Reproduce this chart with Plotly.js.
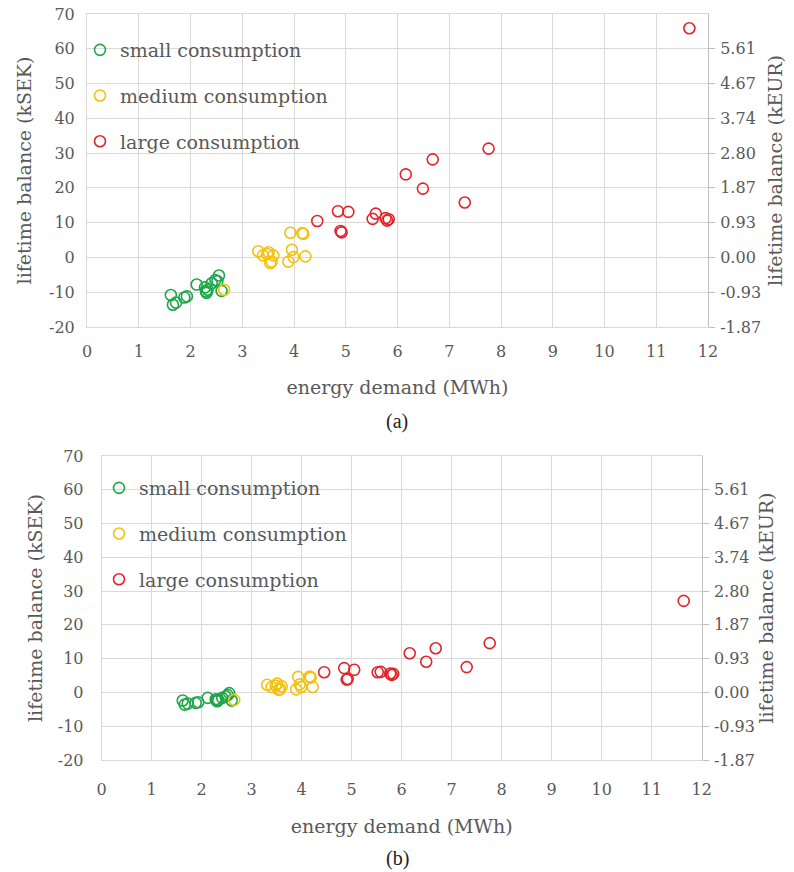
<!DOCTYPE html>
<html>
<head>
<meta charset="utf-8">
<script src="https://cdn.plot.ly/plotly-3.0.1.min.js"></script>
<style>html,body{margin:0;padding:0;background:#fff;}#chart{width:794px;height:872px;}</style>
</head>
<body>
<div id="chart"></div>
<script>
// energy demand (MWh)
const smallX  = [1.62, 1.66, 1.72, 1.88, 1.93, 2.12, 2.28, 2.30, 2.31, 2.33, 2.41, 2.48, 2.52, 2.55, 2.60];
// lifetime balance (kSEK), panel (a) and (b)
const smallYa = [-10.8, -13.6, -13.0, -11.5, -11.2, -7.8, -8.6, -9.8, -10.2, -9.3, -7.4, -6.5, -6.8, -5.2, -9.6];
const smallYb = [-2.4, -3.6, -3.3, -3.1, -2.9, -1.6, -2.0, -2.4, -2.6, -2.2, -1.6, -1.2, -0.8, -0.2, -2.4];

const mediumX  = [2.65, 3.31, 3.40, 3.48, 3.51, 3.54, 3.57, 3.60, 3.89, 3.93, 3.96, 3.99, 4.16, 4.18, 4.22];
const mediumYa = [-9.3, 1.8, 0.6, 1.0, 1.5, -1.6, -1.2, 0.6, -1.2, 7.1, 2.2, 0.1, 7.0, 6.8, 0.3];
const mediumYb = [-2.2, 2.3, 1.6, 2.0, 2.6, 0.8, 1.0, 1.8, 0.9, 4.6, 2.4, 1.6, 4.7, 4.4, 1.6];

const largeX  = [4.45, 4.85, 4.90, 4.92, 5.05, 5.52, 5.58, 5.77, 5.80, 5.83, 6.16, 6.49, 6.68, 7.30, 7.76, 11.64];
const largeYa = [10.5, 13.3, 7.6, 7.2, 13.1, 11.1, 12.6, 11.3, 10.6, 11.0, 23.9, 19.8, 28.2, 15.8, 31.3, 65.9];
const largeYb = [6.0, 7.2, 3.8, 4.0, 6.7, 6.0, 6.1, 5.6, 5.2, 5.5, 11.6, 9.1, 13.1, 7.5, 14.6, 27.1];

const seriesNames = ["small consumption", "medium consumption", "large consumption"];
const seriesColors = ["#1ea64b", "#f4c10f", "#e2252b"];

// left axis: kSEK tick labels
const kSekTickVals = [-20, -10, 0, 10, 20, 30, 40, 50, 60, 70];
const kSekTickText = ["-20", "-10", "0", "10", "20", "30", "40", "50", "60", "70"];
// right axis: kEUR labels placed at kSEK grid values
const kEurTickVals = [-20, -10, 0, 10, 20, 30, 40, 50, 60];
const kEurTickText = ["-1.87", "-0.93", "0.00", "0.93", "1.87", "2.80", "3.74", "4.67", "5.61"];

const FONT = "DejaVu Serif";
const TXT = "#595959";
const GRID = "#d9d9d9";
const W = 794, H = 872;

function mk(x, y, i, xa, ya, leg) {
  return {
    type: "scatter", mode: "markers", x: x, y: y, name: seriesNames[i],
    xaxis: xa, yaxis: ya, legend: leg, legendgroup: leg + i,
    marker: {symbol: "circle-open", size: 11, color: seriesColors[i], line: {width: 1.6, color: seriesColors[i]}},
    hoverinfo: "x+y"
  };
}
// invisible companion trace so the right-hand (kEUR) axis gets drawn
function ghost(x, y, xa, ya) {
  return {type: "scatter", mode: "markers", x: x, y: y, xaxis: xa, yaxis: ya,
          marker: {opacity: 0, size: 1}, showlegend: false, hoverinfo: "skip"};
}

const data = [
  mk(smallX, smallYa, 0, "x", "y", "legend"),
  mk(mediumX, mediumYa, 1, "x", "y", "legend"),
  mk(largeX, largeYa, 2, "x", "y", "legend"),
  ghost(largeX, largeYa, "x", "y2"),
  mk(smallX, smallYb, 0, "x2", "y3", "legend2"),
  mk(mediumX, mediumYb, 1, "x2", "y3", "legend2"),
  mk(largeX, largeYb, 2, "x2", "y3", "legend2"),
  ghost(largeX, largeYb, "x2", "y4")
];

function xAxis(dom, anchor, ls, ts) {
  return {
    domain: dom, anchor: anchor, range: [0, 12], dtick: 1, tick0: 0,
    showgrid: true, gridcolor: GRID, gridwidth: 1, zeroline: false,
    showline: true, linecolor: GRID, linewidth: 1, mirror: true,
    ticks: "", ticklabelstandoff: ls,
    tickfont: {family: FONT, size: 16, color: TXT},
    title: {text: "energy demand (MWh)", font: {family: FONT, size: 19, color: TXT}, standoff: ts},
    automargin: false, fixedrange: true
  };
}
function yLeft(dom, anchor, standoff, tstand) {
  return {
    domain: dom, anchor: anchor, range: [-20, 70],
    tickmode: "array", tickvals: kSekTickVals, ticktext: kSekTickText,
    showgrid: true, gridcolor: GRID, gridwidth: 1, zeroline: false,
    showline: true, linecolor: GRID, linewidth: 1, mirror: true,
    ticks: "", ticklabelstandoff: standoff,
    tickfont: {family: FONT, size: 16, color: TXT},
    title: {text: "lifetime balance (kSEK)", font: {family: FONT, size: 19, color: TXT}, standoff: tstand},
    automargin: false, fixedrange: true
  };
}
function yRight(over, anchor, tstand) {
  return {
    overlaying: over, anchor: anchor, side: "right", range: [-20, 70],
    tickmode: "array", tickvals: kEurTickVals, ticktext: kEurTickText,
    showgrid: false, zeroline: false,
    showline: true, linecolor: "#bfbfbf", linewidth: 1,
    ticks: "outside", ticklen: 6, tickcolor: "#bfbfbf", tickwidth: 1, ticklabelstandoff: 2,
    tickfont: {family: FONT, size: 16, color: TXT},
    title: {text: "lifetime balance (kEUR)", font: {family: FONT, size: 19, color: TXT}, standoff: tstand},
    automargin: false, fixedrange: true
  };
}

const layout = {
  width: W, height: H,
  margin: {l: 0, r: 0, t: 0, b: 0},
  paper_bgcolor: "#ffffff", plot_bgcolor: "#ffffff",
  font: {family: FONT, color: TXT},
  showlegend: true,
  xaxis: xAxis([87 / W, 708 / W], "y", 10, 20),
  yaxis: yLeft([1 - 327 / H, 1 - 14 / H], "x", 8, 12),
  yaxis2: yRight("y", "x", 8),
  xaxis2: xAxis([101.7 / W, 701.7 / W], "y3", 15, 21),
  yaxis3: yLeft([1 - 760 / H, 1 - 456 / H], "x2", 14, 10),
  yaxis4: yRight("y3", "x2", 4),
  legend: {
    x: 80 / W, y: 1 - 31 / H, xanchor: "left", yanchor: "top",
    bgcolor: "rgba(255,255,255,0)", borderwidth: 0,
    font: {family: FONT, size: 19, color: TXT}, tracegroupgap: 18, itemclick: false
  },
  legend2: {
    x: 99 / W, y: 1 - 469 / H, xanchor: "left", yanchor: "top",
    bgcolor: "rgba(255,255,255,0)", borderwidth: 0,
    font: {family: FONT, size: 19, color: TXT}, tracegroupgap: 18, itemclick: false
  },
  annotations: [
    {text: "(a)", xref: "paper", yref: "paper", x: 0.5, y: 1 - 421 / H, showarrow: false,
     xanchor: "center", yanchor: "middle", font: {family: "Liberation Serif", size: 20, color: "#222222"}},
    {text: "(b)", xref: "paper", yref: "paper", x: 0.5, y: 1 - 858 / H, showarrow: false,
     xanchor: "center", yanchor: "middle", font: {family: "Liberation Serif", size: 20, color: "#222222"}}
  ]
};

Plotly.newPlot("chart", data, layout, {displayModeBar: false});
</script>
</body>
</html>
